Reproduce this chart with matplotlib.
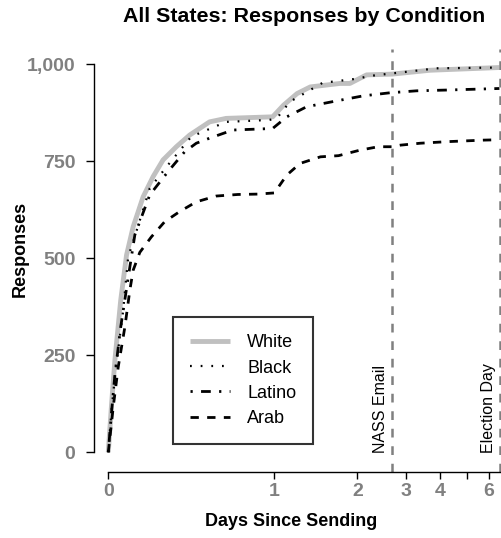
import matplotlib
matplotlib.use("Agg")
import matplotlib.pyplot as plt
from matplotlib.ticker import FuncFormatter, NullLocator

plt.rcParams['font.family'] = ['Liberation Sans', 'DejaVu Sans']

# days since sending / cumulative responses
days_white = [0, 0.02, 0.04, 0.075, 0.11, 0.15, 0.21, 0.27, 0.33, 0.41, 0.49, 0.55,
              0.61, 0.71, 0.99, 1.08, 1.21, 1.35, 1.73, 1.88, 2.16, 2.67, 3.67, 6.55]
resp_white = [0, 125, 238, 392, 508, 581, 658, 710, 753, 787, 817, 834,
              851, 860, 864, 894, 924, 941, 950, 950, 972, 974, 984, 991]

days_black = [0, 0.02, 0.045, 0.09, 0.12, 0.14, 0.25, 0.35, 0.5, 0.71, 0.97, 1.02,
              1.14, 1.5, 1.6, 1.93, 2.32, 3.02, 3.88, 6.55]
resp_black = [0, 110, 215, 366, 504, 529, 680, 735, 813, 851, 856, 860,
              903, 952, 954, 961, 971, 980, 989, 991]

days_latino = [0, 0.02, 0.04, 0.075, 0.12, 0.16, 0.25, 0.36, 0.46, 0.53, 0.61, 0.75,
               0.99, 1.11, 1.31, 1.68, 2.1, 2.63, 3.28, 4.22, 6.55]
resp_latino = [0, 105, 200, 323, 450, 560, 663, 723, 774, 796, 809, 830,
               834, 864, 890, 905, 918, 926, 931, 933, 937]

days_arab = [0, 0.03, 0.06, 0.1, 0.13, 0.15, 0.19, 0.26, 0.34, 0.43, 0.53, 0.65, 0.78,
             0.9, 1.0, 1.11, 1.24, 1.47, 1.71, 2.04, 2.38, 2.67, 2.86, 3.38, 4.22, 5.73, 6.55]
resp_arab = [0, 117, 220, 323, 418, 469, 515, 555, 594, 620, 645, 660, 664,
             665, 668, 714, 744, 761, 764, 778, 787, 787, 791, 796, 800, 804, 805]

events = [2.665, 6.59]
event_names = ["NASS Email", "Election Day"]

x_ticks = [0, 1, 2, 3, 4, 5, 6]
x_labels = ["0", "1", "2", "3", "4", "", "6"]
y_ticks = [0, 250, 500, 750, 1000]

fig = plt.figure(figsize=(5.01, 5.38), dpi=100)
ax = fig.add_axes([94 / 501, 1 - 471.7 / 538, 420 / 501, (471.7 - 48.5) / 538])

ax.set_xscale('symlog', base=2, linthresh=1, linscale=1)

ax.plot(days_white, resp_white, color='#c0c0c0', lw=3.5, solid_capstyle='butt', label='White')
ax.plot(days_black, resp_black, color='black', lw=1.6, dashes=(0.8, 4), label='Black')
ax.plot(days_latino, resp_latino, color='black', lw=2, dashes=(0.8, 3, 3.5, 3), label='Latino')
ax.plot(days_arab, resp_arab, color='black', lw=2, dashes=(3, 3), label='Arab')

for xv, name in zip(events, event_names):
    ax.axvline(xv, color='#808080', lw=1.8, dashes=(3.5, 3.5))
    ax.annotate(name, (xv, -2), xytext=(-3, 0), textcoords='offset points',
                rotation=90, ha='right', va='bottom', fontsize=11.5)

ax.set_xlim(-0.086, 7.4)
ax.set_ylim(-50, 1040)

ax.set_xticks(x_ticks)
ax.set_xticklabels(x_labels)
ax.xaxis.set_minor_locator(NullLocator())
ax.set_yticks(y_ticks)
ax.yaxis.set_major_formatter(FuncFormatter(lambda v, p: f"{int(v):,}"))

for s in ['top', 'right']:
    ax.spines[s].set_visible(False)
ax.spines['left'].set_bounds(0, 1000)
ax.spines['bottom'].set_bounds(0, 7.4)
ax.spines['left'].set_linewidth(1)
ax.spines['bottom'].set_linewidth(1)

ax.tick_params(axis='y', direction='out', length=5.5, width=1, pad=8,
               labelsize=14, labelcolor='#808080')
ax.tick_params(axis='x', direction='out', length=5, width=1, pad=3,
               labelsize=14, labelcolor='#808080')
for lab in ax.get_xticklabels() + ax.get_yticklabels():
    lab.set_fontweight('bold')

leg = ax.legend(loc='upper left', bbox_to_anchor=((173 - 94) / 420, (471.7 - 317.3) / 423.2),
                borderaxespad=0, fontsize=13, frameon=True, fancybox=False,
                handlelength=2.2, handletextpad=0.95, borderpad=0.95, labelspacing=0.45)
leg.get_frame().set_edgecolor('black')
leg.get_frame().set_linewidth(1.5)

fig.text(304 / 501, 1 - 17 / 538, "All States: Responses by Condition",
         ha='center', va='center', fontsize=15.4, fontweight='bold')
fig.text(291 / 501, 1 - 522 / 538, "Days Since Sending",
         ha='center', va='center', fontsize=13, fontweight='bold')
fig.text(20 / 501, 1 - 249 / 538, "Responses", rotation=90,
         ha='center', va='center', fontsize=13, fontweight='bold')

fig.savefig("out.png", dpi=100)
